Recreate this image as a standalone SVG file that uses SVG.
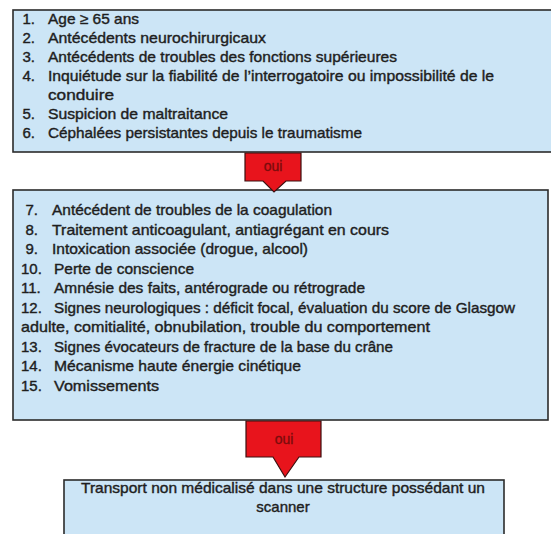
<svg xmlns="http://www.w3.org/2000/svg" width="551" height="534" viewBox="0 0 551 534">
<defs>
<style>
.box{fill:#cce5f6;stroke:#2b2b2b;stroke-width:1.6}
.t{font-family:"Liberation Sans",Arial,sans-serif;font-size:15px;fill:#1e1e1e;stroke:#1e1e1e;stroke-width:0.4}
.n{text-anchor:end}
.arrow{fill:#e8141c;stroke:#3a1010;stroke-width:1.2}
.oui{font-family:"Liberation Sans",Arial,sans-serif;font-size:14px;fill:#7a0c0c;stroke:#7a0c0c;stroke-width:0.3;text-anchor:middle}
</style>
</defs>
<rect width="551" height="534" fill="#ffffff"/>
<g id="node-criteria-1">
<rect class="box" x="13" y="10" width="545" height="142"/>
<text class="t n" x="35" y="24">1.</text><text class="t" x="48" y="24" textLength="91" lengthAdjust="spacingAndGlyphs">Age ≥ 65 ans</text>
<text class="t n" x="35" y="43">2.</text><text class="t" x="48" y="43" textLength="218" lengthAdjust="spacingAndGlyphs">Antécédents neurochirurgicaux</text>
<text class="t n" x="35" y="62">3.</text><text class="t" x="48" y="62" textLength="349" lengthAdjust="spacingAndGlyphs">Antécédents de troubles des fonctions supérieures</text>
<text class="t n" x="35" y="81">4.</text><text class="t" x="48" y="81" textLength="446" lengthAdjust="spacingAndGlyphs">Inquiétude sur la fiabilité de l’interrogatoire ou impossibilité de le</text>
<text class="t" x="48" y="100" textLength="66" lengthAdjust="spacingAndGlyphs">conduire</text>
<text class="t n" x="35" y="119">5.</text><text class="t" x="48" y="119" textLength="180" lengthAdjust="spacingAndGlyphs">Suspicion de maltraitance</text>
<text class="t n" x="35" y="138">6.</text><text class="t" x="48" y="138" textLength="314" lengthAdjust="spacingAndGlyphs">Céphalées persistantes depuis le traumatisme</text>
</g>
<g id="node-criteria-2">
<rect class="box" x="13" y="190" width="535" height="230"/>
<text class="t n" x="38" y="215">7.</text><text class="t" x="52" y="215" textLength="280" lengthAdjust="spacingAndGlyphs">Antécédent de troubles de la coagulation</text>
<text class="t n" x="38" y="234.5">8.</text><text class="t" x="52" y="234.5" textLength="337" lengthAdjust="spacingAndGlyphs">Traitement anticoagulant, antiagrégant en cours</text>
<text class="t n" x="38" y="254">9.</text><text class="t" x="52" y="254" textLength="256" lengthAdjust="spacingAndGlyphs">Intoxication associée (drogue, alcool)</text>
<text class="t" x="21" y="273.5">10.</text><text class="t" x="54" y="273.5" textLength="140" lengthAdjust="spacingAndGlyphs">Perte de conscience</text>
<text class="t" x="21" y="293">11.</text><text class="t" x="54" y="293" textLength="311" lengthAdjust="spacingAndGlyphs">Amnésie des faits, antérograde ou rétrograde</text>
<text class="t" x="21" y="312.5">12.</text><text class="t" x="54" y="312.5" textLength="461" lengthAdjust="spacingAndGlyphs">Signes neurologiques : déficit focal, évaluation du score de Glasgow</text>
<text class="t" x="21" y="332" textLength="409" lengthAdjust="spacingAndGlyphs">adulte, comitialité,  obnubilation, trouble du comportement</text>
<text class="t" x="21" y="351.5">13.</text><text class="t" x="54" y="351.5" textLength="339" lengthAdjust="spacingAndGlyphs">Signes évocateurs de fracture de la base du crâne</text>
<text class="t" x="21" y="371">14.</text><text class="t" x="54" y="371" textLength="247" lengthAdjust="spacingAndGlyphs">Mécanisme haute énergie cinétique</text>
<text class="t" x="21" y="390.5">15.</text><text class="t" x="54" y="390.5" textLength="105" lengthAdjust="spacingAndGlyphs">Vomissements</text>
</g>
<g id="node-transport">
<rect class="box" x="64" y="480" width="440" height="70"/>
<text class="t" x="283" y="493" text-anchor="middle" textLength="404" lengthAdjust="spacingAndGlyphs">Transport non médicalisé  dans une structure possédant un</text>
<text class="t" x="283" y="512" text-anchor="middle">scanner</text>
</g>
<g id="connectors">
<g id="arrow-1">
<polygon class="arrow" points="245,153 301,153 301,181 286,181 274,192 263,181 245,181"/>
<text class="oui" x="273" y="171">oui</text>
</g>
<g id="arrow-2">
<polygon class="arrow" points="246,421 321,421 321,457 299,457 285,477 273,457 246,457"/>
<text class="oui" x="284" y="444">oui</text>
</g>
</g>
</svg>
